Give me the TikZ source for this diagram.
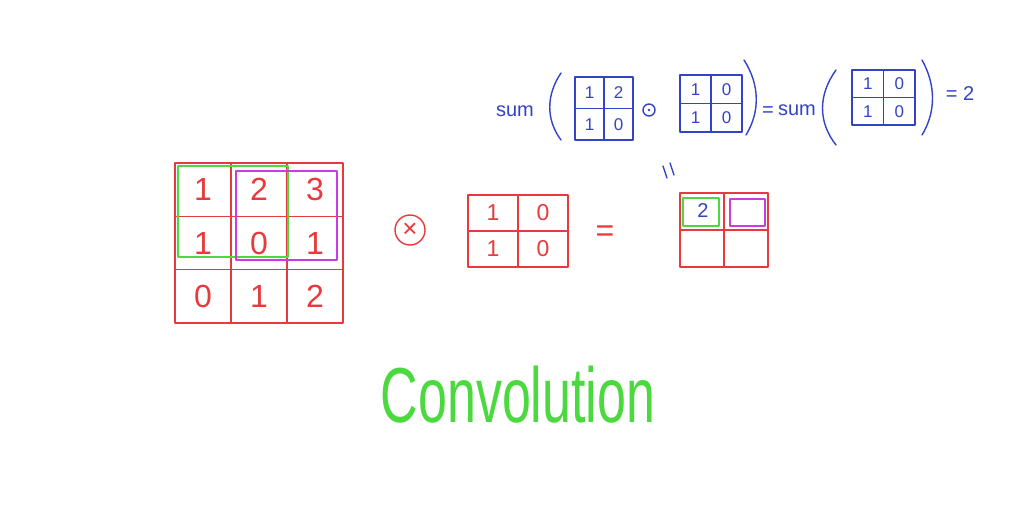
\documentclass[tikz,border=0pt]{standalone}
\usepackage{fontspec}
\setmainfont{Liberation Sans}
\usepackage{graphicx}
\usetikzlibrary{positioning}
\definecolor{InkRed}{HTML}{E8393C}
\definecolor{InkGreen}{HTML}{4CD93F}
\definecolor{InkPink}{HTML}{C83CE0}
\definecolor{InkBlue}{HTML}{3343C8}

\begin{document}
\begin{tikzpicture}[
    x=1pt, y=-1pt,
    ink/.style={line width=1.4pt, line cap=round, line join=round},
    cell/.style={draw=InkRed, ink, inner sep=0pt, text=InkRed, font=\fontsize{32}{32}\selectfont},
    bigcell/.style={cell, minimum width=56pt, minimum height=53.3pt},
    kercell/.style={cell, minimum width=50pt, minimum height=36pt, font=\fontsize{23}{23}\selectfont},
    outcell/.style={cell, minimum width=44pt, minimum height=37pt},
    mini/.style={draw=InkBlue, ink, inner sep=0pt, text=InkBlue, font=\fontsize{17}{17}\selectfont},
    bluetext/.style={text=InkBlue, inner sep=0pt, font=\fontsize{20}{20}\selectfont},
    redtext/.style={text=InkRed, inner sep=0pt, font=\fontsize{32}{32}\selectfont}
  ]
    \useasboundingbox (0,0) rectangle (1024,521);
    \fill[white] (0,0) rectangle (1024,521);

    % input 3x3
    \node[bigcell] (a11) at (203,189.7) {1};
    \node[bigcell] (a12) at (259,189.7) {2};
    \node[bigcell] (a13) at (315,189.7) {3};
    \node[bigcell] (a21) at (203,243) {1};
    \node[bigcell] (a22) at (259,243) {0};
    \node[bigcell] (a23) at (315,243) {1};
    \node[bigcell] (a31) at (203,296.3) {0};
    \node[bigcell] (a32) at (259,296.3) {1};
    \node[bigcell] (a33) at (315,296.3) {2};
    \draw[InkGreen, ink] (178,166) rectangle (288,257);
    \draw[InkPink, ink] (236,171) rectangle (337,260);

    % operator and kernel
    \node[draw=InkRed, ink, circle, minimum size=30pt, inner sep=0pt, text=InkRed,
      font=\fontsize{26}{26}\selectfont] (conv) at (410,230) {×};
    \node[kercell] (k11) at (493,213) {1};
    \node[kercell] (k12) at (543,213) {0};
    \node[kercell] (k21) at (493,249) {1};
    \node[kercell] (k22) at (543,249) {0};
    \node[redtext] (eq) at (605,234) {=};

    % output 2x2
    \node[outcell] (o11) at (702,211.5) {};
    \node[outcell] (o12) at (746,211.5) {};
    \node[outcell] (o21) at (702,248.5) {};
    \node[outcell] (o22) at (746,248.5) {};
    \draw[InkGreen, ink] (683,198) rectangle (719,226);
    \draw[InkPink, ink] (730,199) rectangle (765,226);
    \node[bluetext] (res) at (703,211) {2};
    \draw[InkBlue, ink] (663,166) -- (667,178);
    \draw[InkBlue, ink] (670,163) -- (674,175);

    % top formula
    \node[bluetext] (sum1) at (515,111) {sum};
    \draw[InkBlue, ink] (561,73) .. controls (546,95) and (546,120) .. (561,140);
    \node[mini, minimum width=29pt, minimum height=31.5pt] (p11) at (589.5,92.75) {1};
    \node[mini, minimum width=29pt, minimum height=31.5pt] (p12) at (618.5,92.75) {2};
    \node[mini, minimum width=29pt, minimum height=31.5pt] (p21) at (589.5,124.25) {1};
    \node[mini, minimum width=29pt, minimum height=31.5pt] (p22) at (618.5,124.25) {0};
    \node[draw=InkBlue, ink, circle, minimum size=12pt, inner sep=0pt] (had) at (649,110) {};
    \fill[InkBlue] (had.center) circle (1.3pt);
    \node[mini, minimum width=31pt, minimum height=28.5pt] (q11) at (695.5,89.25) {1};
    \node[mini, minimum width=31pt, minimum height=28.5pt] (q12) at (726.5,89.25) {0};
    \node[mini, minimum width=31pt, minimum height=28.5pt] (q21) at (695.5,117.75) {1};
    \node[mini, minimum width=31pt, minimum height=28.5pt] (q22) at (726.5,117.75) {0};
    \draw[InkBlue, ink] (744,60) .. controls (760,85) and (760,112) .. (746,135);
    \node[bluetext] (eq1) at (768,112) {=};
    \node[bluetext] (sum2) at (797,110) {sum};
    \draw[InkBlue, ink] (836,70) .. controls (818,95) and (818,122) .. (836,145);
    \node[mini, minimum width=31.5pt, minimum height=27.5pt] (r11) at (867.75,83.75) {1};
    \node[mini, minimum width=31.5pt, minimum height=27.5pt] (r12) at (899.25,83.75) {0};
    \node[mini, minimum width=31.5pt, minimum height=27.5pt] (r21) at (867.75,111.25) {1};
    \node[mini, minimum width=31.5pt, minimum height=27.5pt] (r22) at (899.25,111.25) {0};
    \draw[InkBlue, ink] (922,60) .. controls (936,85) and (936,112) .. (922,135);
    \node[bluetext] (eq2) at (960,94) {= 2};

    % caption
    \node[text=InkGreen, inner sep=0pt, font=\fontsize{52}{52}\selectfont] (title) at (518,395)
      {\scalebox{1}[1.5]{Convolution}};
  \end{tikzpicture}
\end{document}
